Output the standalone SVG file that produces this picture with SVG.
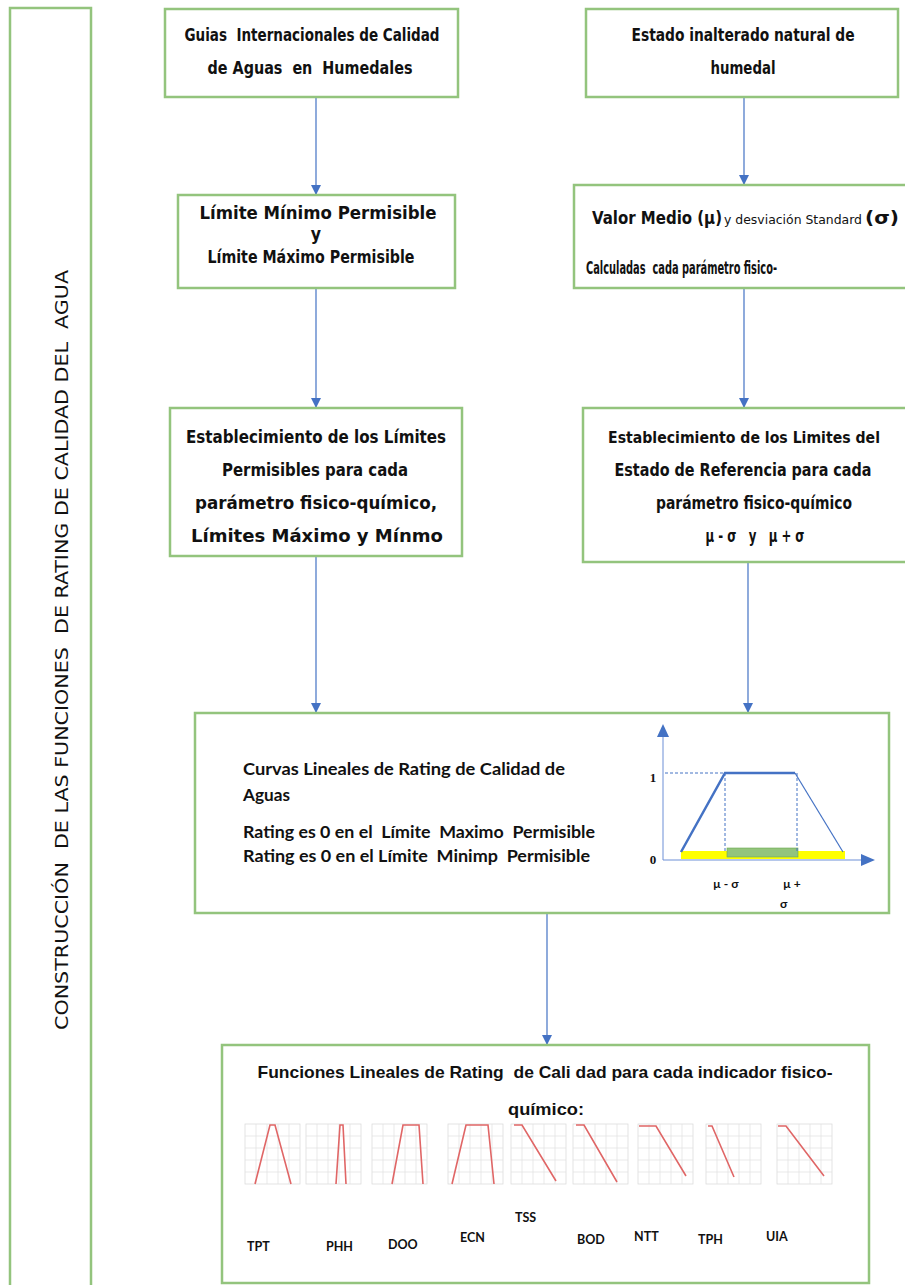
<svg xmlns="http://www.w3.org/2000/svg" width="905" height="1285" viewBox="0 0 905 1285">
<style>
.box{fill:#ffffff;stroke:#93c47d;stroke-width:2.5}
.t{font-family:'DejaVu Sans Condensed','Liberation Sans',Arial,sans-serif;font-size:17.5px;font-weight:bold;fill:#111;text-anchor:middle}
.tl{font-family:'DejaVu Sans Condensed','Liberation Sans',Arial,sans-serif;font-size:17.5px;font-weight:bold;fill:#111}
.c{font-family:Lato,'Liberation Sans',Arial,sans-serif;font-size:17px;font-weight:bold;fill:#111}
.h{font-family:'Liberation Sans',Arial,sans-serif;font-size:16.5px;font-weight:bold;fill:#111;text-anchor:middle}
.conn{stroke:#4472c4;stroke-width:1.2;fill:none}
.grid{stroke:#e3e3e3;stroke-width:0.8}
.frame{fill:#fff;stroke:#dcdcdc;stroke-width:0.8}
.red{stroke:#e06666;stroke-width:1.6;fill:none}
.lab{font-family:Lato,'Liberation Sans',Arial,sans-serif;font-size:12.5px;font-weight:bold;fill:#111}
</style>
<defs>
<marker id="ah" markerWidth="10" markerHeight="10" refX="9" refY="5" orient="auto" markerUnits="userSpaceOnUse">
<path d="M0,0 L10,5 L0,10 z" fill="#4472c4"/>
</marker>
<g id="grid9">
<rect class="frame" x="0" y="0" width="55" height="60"/>
<path class="grid" d="M11,0V60M22,0V60M33,0V60M44,0V60M0,12H55M0,24H55M0,36H55M0,48H55"/>
</g>
</defs>
<rect width="905" height="1285" fill="#ffffff"/>

<g id="side">
<rect class="box" x="10" y="8" width="81" height="1290"/>
<text transform="translate(68,650) rotate(-90)" font-family="'DejaVu Sans Condensed','Liberation Sans',Arial,sans-serif" font-size="17" fill="#111" text-anchor="middle" textLength="760" lengthAdjust="spacingAndGlyphs" xml:space="preserve">CONSTRUCCIÓN  DE LAS FUNCIONES  DE RATING DE CALIDAD DEL  AGUA</text>
</g>

<g id="connectors">
<line class="conn" x1="316" y1="97" x2="316" y2="194" marker-end="url(#ah)"/>
<line class="conn" x1="744" y1="97" x2="744" y2="184" marker-end="url(#ah)"/>
<line class="conn" x1="316" y1="288" x2="316" y2="407" marker-end="url(#ah)"/>
<line class="conn" x1="744" y1="288" x2="744" y2="407" marker-end="url(#ah)"/>
<line class="conn" x1="316" y1="556" x2="316" y2="712" marker-end="url(#ah)"/>
<line class="conn" x1="748" y1="562" x2="748" y2="712" marker-end="url(#ah)"/>
<line class="conn" x1="547" y1="913" x2="547" y2="1044" marker-end="url(#ah)"/>
</g>

<g id="boxA">
<rect class="box" x="165" y="9" width="293" height="88"/>
<text class="t" x="312" y="41" textLength="255" lengthAdjust="spacingAndGlyphs" xml:space="preserve">Guias  Internacionales de Calidad</text>
<text class="t" x="310" y="74" textLength="205" lengthAdjust="spacingAndGlyphs" xml:space="preserve">de Aguas  en  Humedales</text>
</g>

<g id="boxB">
<rect class="box" x="586" y="9" width="312" height="88"/>
<text class="t" x="743" y="41" textLength="223" lengthAdjust="spacingAndGlyphs">Estado inalterado natural de</text>
<text class="t" x="743" y="74" textLength="65" lengthAdjust="spacingAndGlyphs">humedal</text>
</g>

<g id="boxC">
<rect class="box" x="178" y="195" width="277" height="93"/>
<text class="t" x="318" y="219" textLength="237" lengthAdjust="spacingAndGlyphs">Límite Mínimo Permisible</text>
<text class="t" x="316" y="240">y</text>
<text class="t" x="311" y="263" textLength="207" lengthAdjust="spacingAndGlyphs">Límite Máximo Permisible</text>
</g>

<g id="boxD">
<rect class="box" x="574" y="185" width="333" height="103"/>
<text class="tl" x="592" y="224"><tspan textLength="130" lengthAdjust="spacingAndGlyphs">Valor Medio (µ)</tspan><tspan style="font-size:12.5px;font-weight:normal" dx="2" textLength="138" lengthAdjust="spacingAndGlyphs">y desviación Standard</tspan><tspan dx="3" textLength="34" lengthAdjust="spacingAndGlyphs">(σ)</tspan></text>
<text class="tl" x="586" y="274" textLength="191" lengthAdjust="spacingAndGlyphs" xml:space="preserve">Calculadas  cada parámetro fisico-</text>
</g>

<g id="boxF">
<rect class="box" x="583" y="408" width="324" height="154"/>
<text class="t" x="744" y="443" style="font-size:15.5px" textLength="272" lengthAdjust="spacingAndGlyphs">Establecimiento de los Limites del</text>
<text class="t" x="743" y="476" textLength="257" lengthAdjust="spacingAndGlyphs">Estado de Referencia para cada</text>
<text class="t" x="754" y="509" textLength="196" lengthAdjust="spacingAndGlyphs">parámetro fisico-químico</text>
<text class="t" x="755" y="542" textLength="99" lengthAdjust="spacingAndGlyphs" xml:space="preserve">µ - σ   y   µ + σ</text>
</g>

<g id="boxE">
<rect class="box" x="170" y="408" width="292" height="148"/>
<text class="t" x="316" y="443" textLength="260" lengthAdjust="spacingAndGlyphs">Establecimiento de los Límites</text>
<text class="t" x="315" y="476" textLength="186" lengthAdjust="spacingAndGlyphs">Permisibles para cada</text>
<text class="t" x="316" y="509" textLength="242" lengthAdjust="spacingAndGlyphs">parámetro fisico-químico,</text>
<text class="t" x="317" y="542" textLength="252" lengthAdjust="spacingAndGlyphs">Límites Máximo y Mínmo</text>
</g>

<g id="boxG">
<rect class="box" x="195" y="713" width="694" height="200"/>
<text class="c" x="243" y="775" textLength="322" lengthAdjust="spacingAndGlyphs">Curvas Lineales de Rating de Calidad de</text>
<text class="c" x="243" y="801" textLength="47" lengthAdjust="spacingAndGlyphs">Aguas</text>
<text class="c" x="243" y="838" textLength="352" lengthAdjust="spacingAndGlyphs" xml:space="preserve">Rating es 0 en el  Límite  Maximo  Permisible</text>
<text class="c" x="243" y="862" textLength="347" lengthAdjust="spacingAndGlyphs" xml:space="preserve">Rating es 0 en el Límite  Minimp  Permisible</text>
<g id="chart">
<rect x="681" y="851" width="164" height="8" fill="#ffff00"/>
<rect x="727" y="848" width="71" height="9" fill="#93c47d" stroke="#6aa84f" stroke-width="0.6"/>
<line x1="663" y1="860" x2="663" y2="735" stroke="#6d8fd6" stroke-width="1"/>
<path d="M657,737 L663,724 L669,737 z" fill="#4472c4"/>
<line x1="663" y1="860" x2="862" y2="860" stroke="#6d8fd6" stroke-width="1"/>
<path d="M861,854 L875,860 L861,866 z" fill="#4472c4"/>
<path d="M665,773 H725 M725,773 V851 M797,773 V851" stroke="#4472c4" stroke-width="1" stroke-dasharray="3,2" fill="none"/>
<path d="M681,852 L725,773 L795,773" stroke="#4472c4" stroke-width="2.5" fill="none"/>
<path d="M795,773 L843,852" stroke="#4472c4" stroke-width="1.2" fill="none"/>
<text x="653" y="782" font-family="'Liberation Serif',serif" font-size="13" font-weight="bold" fill="#111" text-anchor="middle">1</text>
<text x="653" y="864" font-family="'Liberation Serif',serif" font-size="13" font-weight="bold" fill="#111" text-anchor="middle">0</text>
<text x="713" y="888" font-family="Lato,'Liberation Sans',Arial,sans-serif" font-size="12" font-weight="bold" fill="#111" xml:space="preserve">µ - σ</text>
<text x="783" y="888" font-family="Lato,'Liberation Sans',Arial,sans-serif" font-size="12" font-weight="bold" fill="#111">µ +</text>
<text x="780" y="908" font-family="Lato,'Liberation Sans',Arial,sans-serif" font-size="12" font-weight="bold" fill="#111">σ</text>
</g>
</g>

<g id="boxH">
<rect class="box" x="222" y="1045" width="647" height="238"/>
<text class="h" x="545" y="1078" textLength="575" lengthAdjust="spacingAndGlyphs" xml:space="preserve">Funciones Lineales de Rating  de Cali dad para cada indicador fisico-</text>
<text class="h" x="546" y="1115" textLength="76" lengthAdjust="spacingAndGlyphs">químico:</text>
<g id="minicharts">
<use href="#grid9" x="245" y="1124"/>
<polyline class="red" points="255,1184 270,1125 275,1125 291,1184"/>
<use href="#grid9" x="306" y="1124"/>
<polyline class="red" points="336,1184 340,1125 343,1125 346,1184"/>
<use href="#grid9" x="372" y="1124"/>
<polyline class="red" points="392,1184 403,1125 419,1125 423,1184"/>
<use href="#grid9" x="448" y="1124"/>
<polyline class="red" points="452,1184 466,1125 488,1125 494,1184"/>
<use href="#grid9" x="511" y="1124"/>
<polyline class="red" points="514,1125 522,1125 556,1181"/>
<use href="#grid9" x="573" y="1124"/>
<polyline class="red" points="576,1125 584,1125 617,1182"/>
<use href="#grid9" x="638" y="1124"/>
<polyline class="red" points="639,1126 656,1126 686,1176"/>
<use href="#grid9" x="706" y="1124"/>
<polyline class="red" points="708,1126 712,1126 734,1177"/>
<use href="#grid9" x="777" y="1124"/>
<polyline class="red" points="778,1126 786,1126 824,1176"/>
</g>
<text class="lab" x="247" y="1251">TPT</text>
<text class="lab" x="326" y="1251">PHH</text>
<text class="lab" x="388" y="1249">DOO</text>
<text class="lab" x="460" y="1242">ECN</text>
<text class="lab" x="515" y="1222">TSS</text>
<text class="lab" x="577" y="1244">BOD</text>
<text class="lab" x="634" y="1241">NTT</text>
<text class="lab" x="698" y="1244">TPH</text>
<text class="lab" x="766" y="1241">UIA</text>
</g>
</svg>
